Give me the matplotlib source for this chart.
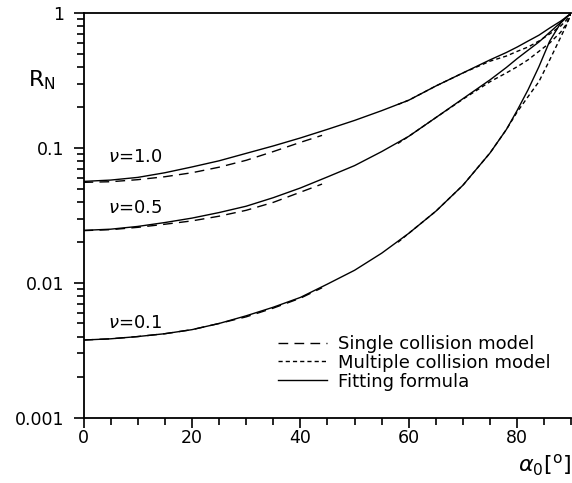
import matplotlib
matplotlib.use("Agg")
import matplotlib.pyplot as plt
from matplotlib.ticker import MultipleLocator, LogLocator, NullFormatter

# fitting formula (solid)
alpha_fit = [0, 5, 10, 15, 20, 25, 30, 35, 40, 45, 50, 55, 60, 65, 70, 75, 78, 80, 82, 84, 86, 88, 89, 90]
fit_nu10 = [0.0565, 0.0578, 0.0605, 0.0655, 0.0723, 0.0803, 0.0912, 0.1035, 0.1186, 0.1374, 0.160, 0.189,
            0.226, 0.288, 0.360, 0.450, 0.510, 0.560, 0.620, 0.685, 0.775, 0.870, 0.930, 1.0]
fit_nu05 = [0.0245, 0.0250, 0.0262, 0.0280, 0.0302, 0.0332, 0.0370, 0.0428, 0.0505, 0.061, 0.074, 0.094,
            0.122, 0.168, 0.232, 0.320, 0.395, 0.460, 0.530, 0.610, 0.720, 0.850, 0.920, 1.0]
fit_nu01 = [0.00377, 0.00385, 0.0040, 0.0042, 0.0045, 0.0050, 0.0057, 0.0066, 0.0078, 0.0098, 0.0124, 0.0166,
            0.0233, 0.034, 0.053, 0.092, 0.137, 0.190, 0.270, 0.400, 0.620, 0.840, 0.930, 1.0]

# single collision model (long dashes)
alpha_single = [0, 5, 10, 15, 20, 25, 30, 35, 40, 44]
single_nu10 = [0.0556, 0.0562, 0.0582, 0.0612, 0.0655, 0.0720, 0.081, 0.094, 0.110, 0.124]
single_nu05 = [0.0244, 0.0248, 0.0258, 0.0272, 0.0288, 0.0312, 0.0345, 0.0395, 0.047, 0.054]
single_nu01 = [0.00377, 0.00385, 0.0040, 0.0042, 0.0045, 0.0050, 0.0056, 0.0065, 0.0077, 0.0092]

# multiple collision model (short dashes)
alpha_multi = [58, 60, 65, 70, 75, 78, 80, 82, 84, 86, 88, 89, 90]
multi_nu10 = [0.21, 0.226, 0.288, 0.360, 0.440, 0.480, 0.520, 0.560, 0.620, 0.700, 0.800, 0.880, 1.0]
multi_nu05 = [0.108, 0.122, 0.168, 0.230, 0.310, 0.360, 0.400, 0.450, 0.520, 0.600, 0.720, 0.820, 1.0]
multi_nu01 = [0.020, 0.0233, 0.034, 0.053, 0.092, 0.137, 0.185, 0.240, 0.310, 0.450, 0.660, 0.800, 1.0]

nu_labels = [r"$\nu$=1.0", r"$\nu$=0.5", r"$\nu$=0.1"]
nu_label_y = [0.085, 0.0357, 0.0050]

plt.rcParams["font.family"] = ["DejaVu Sans"]
plt.rcParams["mathtext.fontset"] = "dejavusans"

fig = plt.figure(figsize=(5.72, 4.83), dpi=100)
ax = fig.add_axes([0.146, 0.135, 0.853, 0.838])

lw = 1.0
long_dash = (0, (7, 4.5))
short_dash = (0, (3, 2.2))

for i, (f, s, m) in enumerate([(fit_nu10, single_nu10, multi_nu10),
                               (fit_nu05, single_nu05, multi_nu05),
                               (fit_nu01, single_nu01, multi_nu01)]):
    ax.plot(alpha_single, s, color="black", lw=lw, linestyle=long_dash,
            label="Single collision model" if i == 0 else None)
    ax.plot(alpha_multi, m, color="black", lw=lw, linestyle=short_dash,
            label="Multiple collision model" if i == 0 else None)
    ax.plot(alpha_fit, f, color="black", lw=lw, linestyle="-",
            label="Fitting formula" if i == 0 else None)

for lab, yv in zip(nu_labels, nu_label_y):
    ax.text(4.6, yv, lab, fontsize=13, va="center", ha="left")

ax.set_yscale("log")
ax.set_xlim(0, 90)
ax.set_ylim(0.001, 1)

ax.xaxis.set_major_locator(MultipleLocator(20))
ax.xaxis.set_minor_locator(MultipleLocator(5))
ax.yaxis.set_minor_locator(LogLocator(base=10, subs=range(2, 10), numticks=20))
ax.set_yticks([0.001, 0.01, 0.1, 1])
ax.set_yticklabels(["0.001", "0.01", "0.1", "1"])
ax.yaxis.set_minor_formatter(NullFormatter())

ax.tick_params(axis="both", which="major", direction="out", labelsize=12.5,
               width=1.2, length=7, top=False, right=False)
ax.tick_params(axis="both", which="minor", direction="out", width=1.2, length=5,
               top=False, right=False)
ax.tick_params(axis="x", which="major", pad=1)
ax.tick_params(axis="y", which="major", pad=7)

ax.spines["right"].set_visible(False)
for sp in ["left", "bottom", "top"]:
    ax.spines[sp].set_linewidth(1.3)

ax.text(-0.085, 0.834, r"R$_\mathregular{N}$", transform=ax.transAxes,
        fontsize=16, ha="center", va="center")
ax.text(1.0, -0.118, r"$\alpha_0[^{\mathrm{o}}]$", transform=ax.transAxes,
        fontsize=16, ha="right", va="center")

ax.legend(loc="upper left", bbox_to_anchor=(0.399, 0.205), frameon=False,
          fontsize=13, handlelength=2.7, handletextpad=0.6, labelspacing=0.05,
          borderpad=0, borderaxespad=0)

fig.savefig("out.png", dpi=100)
